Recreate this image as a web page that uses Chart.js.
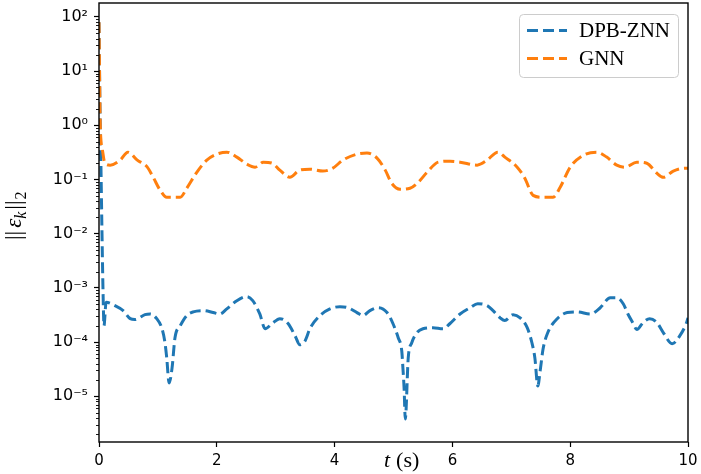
<!DOCTYPE html>
<html>
<head>
<meta charset="utf-8">
<script src="https://cdn.jsdelivr.net/npm/chart.js@4.4.0/dist/chart.umd.min.js"></script>
<style>
  html, body { margin: 0; padding: 0; background: #fff; }
  #wrap { width: 701px; height: 474px; position: relative; }
</style>
</head>
<body>
<div id="wrap"><canvas id="errChart"></canvas></div>
<script>
// time axis ticks and log decades
const xTicks = [0, 2, 4, 6, 8, 10];
const yDecades = [-5, -4, -3, -2, -1, 0, 1, 2];

// DPB-ZNN residual
const tDpb = [0, 0.017, 0.034, 0.051, 0.068, 0.085, 0.12, 0.27, 0.41, 0.53, 0.61, 0.78, 0.87, 0.98,
  1.07, 1.12, 1.15, 1.19, 1.24, 1.29, 1.38, 1.49, 1.60, 1.77, 1.94, 2.05, 2.17, 2.34, 2.51, 2.61,
  2.73, 2.82, 2.94, 3.07, 3.21, 3.33, 3.41, 3.50, 3.58, 3.75, 3.92, 4.09, 4.23, 4.38, 4.48, 4.60,
  4.74, 4.89, 4.99, 5.08, 5.14, 5.16, 5.18, 5.20, 5.25, 5.31, 5.40, 5.50, 5.67, 5.84, 5.96, 6.13,
  6.30, 6.43, 6.59, 6.69, 6.81, 6.89, 7.03, 7.15, 7.27, 7.35, 7.40, 7.45, 7.49, 7.54, 7.62, 7.78,
  7.95, 8.12, 8.34, 8.51, 8.68, 8.79, 8.90, 8.98, 9.07, 9.13, 9.24, 9.35, 9.47, 9.58, 9.73, 9.86,
  9.97, 10.0];
const errDpb = [80, 2, 0.15, 0.01, 9e-4, 2e-4, 5.4e-4, 4.7e-4, 3.8e-4, 2.7e-4, 2.6e-4, 3.2e-4, 3.3e-4, 2.7e-4,
  1.76e-4, 9.7e-5, 5.1e-5, 1.76e-5, 3.3e-5, 1.2e-4, 2.0e-4, 3.07e-4, 3.6e-4, 3.8e-4, 3.5e-4, 3.3e-4, 4.1e-4, 5.8e-4, 6.9e-4, 5.8e-4,
  3.3e-4, 1.76e-4, 2.2e-4, 2.7e-4, 2.2e-4, 1.3e-4, 8.9e-5, 1.06e-4, 1.76e-4, 3.07e-4, 4.1e-4, 4.5e-4, 4.3e-4, 3.5e-4, 3.07e-4, 3.8e-4,
  4.3e-4, 3.5e-4, 2.2e-4, 1.2e-4, 6.9e-5, 3.3e-5, 1.4e-5, 3.8e-6, 5.1e-5, 9.7e-5, 1.5e-4, 1.76e-4, 1.84e-4, 1.76e-4, 2.2e-4, 3.3e-4,
  4.3e-4, 5.1e-4, 4.7e-4, 3.8e-4, 2.8e-4, 2.5e-4, 3.2e-4, 2.8e-4, 1.84e-4, 9.7e-5, 5.1e-5, 1.55e-5, 2.95e-5, 7.5e-5, 1.5e-4, 2.7e-4,
  3.5e-4, 3.6e-4, 3.3e-4, 4.3e-4, 6.6e-4, 6.6e-4, 5.1e-4, 3.3e-4, 2.2e-4, 1.7e-4, 2.3e-4, 2.7e-4, 2.3e-4, 1.5e-4, 9.3e-5, 1.3e-4,
  2.2e-4, 2.8e-4];

// GNN residual
const tGnn = [0, 0.01, 0.02, 0.035, 0.05, 0.10, 0.19, 0.36, 0.49, 0.65, 0.82, 0.92, 1.04, 1.15, 1.38, 1.49,
  1.66, 1.83, 2.00, 2.17, 2.34, 2.51, 2.65, 2.79, 2.94, 3.07, 3.24, 3.41, 3.58, 3.80, 3.97, 4.14,
  4.38, 4.55, 4.72, 4.86, 4.97, 5.11, 5.28, 5.42, 5.57, 5.76, 5.96, 6.13, 6.42, 6.59, 6.77, 6.89,
  7.10, 7.23, 7.37, 7.54, 7.71, 7.83, 8.00, 8.22, 8.45, 8.62, 8.79, 8.93, 9.13, 9.30, 9.47, 9.58,
  9.75, 9.95, 10.0];
const errGnn = [80, 8, 1.2, 0.5, 0.40, 0.20, 0.184, 0.228, 0.32, 0.228, 0.169, 0.110, 0.063, 0.047, 0.047, 0.069,
  0.136, 0.228, 0.294, 0.32, 0.259, 0.192, 0.169, 0.209, 0.20, 0.149, 0.110, 0.149, 0.155, 0.143, 0.162, 0.228,
  0.294, 0.307, 0.248, 0.149, 0.085, 0.066, 0.069, 0.089, 0.136, 0.209, 0.218, 0.209, 0.184, 0.228, 0.32, 0.259,
  0.169, 0.106, 0.051, 0.047, 0.047, 0.072, 0.169, 0.28, 0.32, 0.259, 0.184, 0.169, 0.209, 0.20, 0.131, 0.110,
  0.143, 0.162, 0.162];

const yMin = 1.43e-6;
const yMax = 181;

const supMap = { '-': '\u207B', '0': '\u2070', '1': '\u00B9', '2': '\u00B2', '3': '\u00B3',
  '4': '\u2074', '5': '\u2075', '6': '\u2076', '7': '\u2077', '8': '\u2078', '9': '\u2079' };
function decadeLabel(n) {
    return '10' + String(n).split('').map(c => supMap[c]).join('');
}

// frame, minor ticks, axis titles and legend box
const extras = {
    id: 'extras',
    afterDraw(chart) {
        const ctx = chart.ctx;
        const a = chart.chartArea;
        const ys = chart.scales.y;
        ctx.save();

        // minor log ticks
        ctx.strokeStyle = '#000';
        ctx.lineWidth = 0.9;
        for (let n = -6; n <= 2; n++) {
            for (let k = 2; k <= 9; k++) {
                const v = k * Math.pow(10, n);
                if (v < yMin || v > yMax) continue;
                const py = Math.round(ys.getPixelForValue(v)) + 0.5;
                ctx.beginPath();
                ctx.moveTo(a.left - 3, py);
                ctx.lineTo(a.left, py);
                ctx.stroke();
            }
        }

        // axes frame
        ctx.lineWidth = 1.4;
        ctx.strokeRect(a.left, a.top, a.right - a.left, a.bottom - a.top);

        // x title
        ctx.fillStyle = '#000';
        ctx.textBaseline = 'alphabetic';
        ctx.textAlign = 'left';
        let x = 384;
        const yb = 467;
        ctx.font = 'italic 22px "Liberation Serif"';
        ctx.fillText('t', x, yb);
        x += ctx.measureText('t').width + 6;
        ctx.font = '22px "Liberation Serif"';
        ctx.fillText('(s)', x, yb);

        // y title, rotated
        ctx.translate(21, 240);
        ctx.rotate(-Math.PI / 2);
        let p = 0;
        const parts = [
            ['||', '23px "Liberation Serif"', 0, 3],
            ['\u03B5', 'italic 23px "Liberation Serif"', 0, 0],
            ['k', 'italic 16px "Liberation Serif"', 5, 2],
            ['||', '23px "Liberation Serif"', 0, 1],
            ['2', '16px "Liberation Serif"', 5, 0]
        ];
        for (const [txt, font, dy, gap] of parts) {
            ctx.font = font;
            ctx.fillText(txt, p, dy);
            p += ctx.measureText(txt).width + gap;
        }
        ctx.restore();

        // legend
        ctx.save();
        const lx = 519, ly = 14, lw = 159, lh = 63;
        ctx.beginPath();
        ctx.roundRect(lx + 0.5, ly + 0.5, lw, lh, 4);
        ctx.fillStyle = 'rgba(255,255,255,0.8)';
        ctx.fill();
        ctx.strokeStyle = '#cccccc';
        ctx.lineWidth = 1;
        ctx.stroke();
        chart.data.datasets.forEach((ds, i) => {
            const base = 37 + i * 28;
            ctx.strokeStyle = ds.borderColor;
            ctx.lineWidth = ds.borderWidth;
            ctx.setLineDash(ds.borderDash);
            ctx.beginPath();
            ctx.moveTo(527, base - 6.5);
            ctx.lineTo(567, base - 6.5);
            ctx.stroke();
            ctx.setLineDash([]);
            ctx.fillStyle = '#000';
            ctx.font = '21px "Liberation Serif"';
            ctx.textBaseline = 'alphabetic';
            ctx.fillText(ds.label, 579, base);
        });
        ctx.restore();
    }
};

const ctx = document.getElementById('errChart').getContext('2d');
const errChart = new Chart(ctx, {
    type: 'line',
    data: {
        datasets: [{
            label: 'DPB-ZNN',
            data: tDpb.map((t, i) => ({ x: t, y: errDpb[i] })),
            borderColor: '#1f77b4',
            borderWidth: 3,
            borderDash: [11, 5],
            pointRadius: 0,
            cubicInterpolationMode: 'monotone',
            fill: false,
            order: 1
        }, {
            label: 'GNN',
            data: tGnn.map((t, i) => ({ x: t, y: errGnn[i] })),
            borderColor: '#ff7f0e',
            borderWidth: 3,
            borderDash: [11, 5],
            pointRadius: 0,
            cubicInterpolationMode: 'monotone',
            fill: false,
            order: 0
        }]
    },
    options: {
        responsive: true,
        maintainAspectRatio: false,
        animation: false,
        layout: { padding: { top: 3, right: 13, left: 0, bottom: 0 } },
        plugins: {
            legend: { display: false },
            tooltip: { enabled: false }
        },
        scales: {
            x: {
                type: 'linear',
                min: 0,
                max: 10,
                afterBuildTicks: (scale) => { scale.ticks = xTicks.map(v => ({ value: v })); },
                afterFit: (scale) => { scale.height = 32; scale.paddingLeft = 0; scale.paddingRight = 0; },
                border: { display: false },
                grid: {
                    drawOnChartArea: false,
                    drawTicks: true,
                    tickLength: 5,
                    tickColor: '#000',
                    tickWidth: 1.2
                },
                ticks: {
                    color: '#000',
                    padding: 5,
                    maxRotation: 0,
                    font: { family: 'DejaVu Sans', size: 15 }
                }
            },
            y: {
                type: 'logarithmic',
                min: yMin,
                max: yMax,
                bounds: 'data',
                afterBuildTicks: (scale) => { scale.ticks = yDecades.map(n => ({ value: Math.pow(10, n) })); },
                afterFit: (scale) => { scale.width = 99; scale.paddingTop = 0; scale.paddingBottom = 0; },
                border: { display: false },
                grid: {
                    drawOnChartArea: false,
                    drawTicks: true,
                    tickLength: 5,
                    tickColor: '#000',
                    tickWidth: 1.2
                },
                ticks: {
                    color: '#000',
                    padding: 6,
                    font: { family: 'DejaVu Sans', size: 16 },
                    callback: (v) => decadeLabel(Math.round(Math.log10(v)))
                }
            }
        }
    },
    plugins: [extras]
});
</script>
</body>
</html>
